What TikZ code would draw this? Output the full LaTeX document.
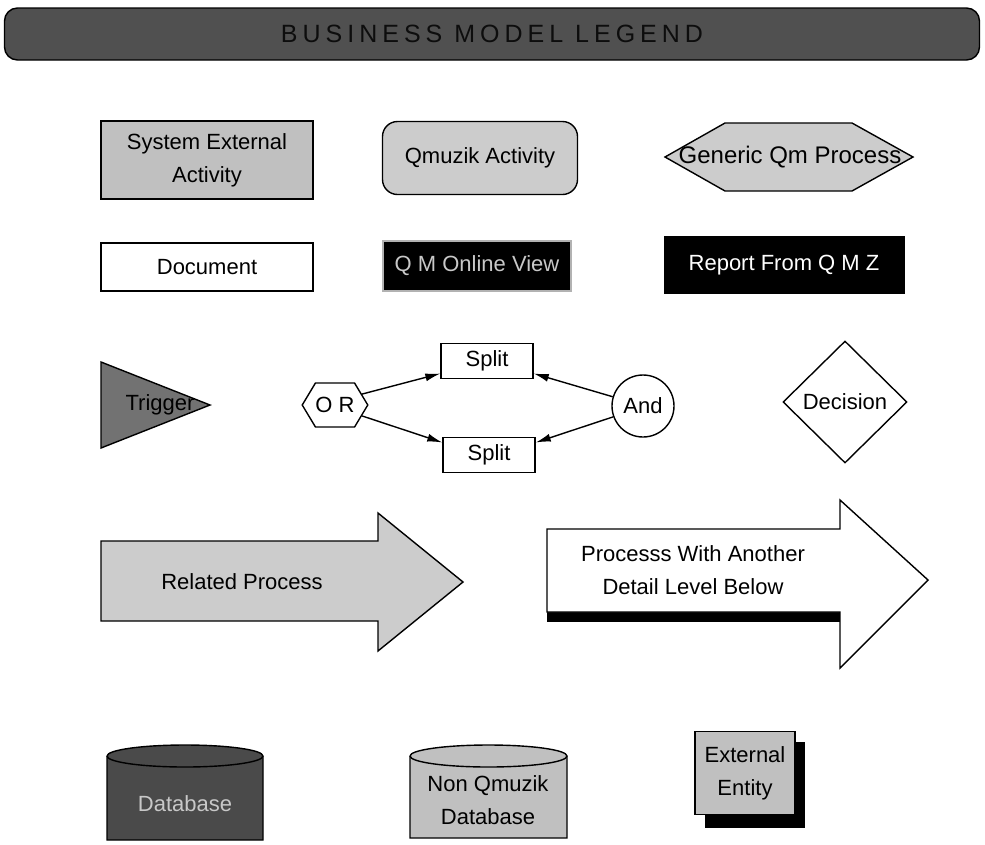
\documentclass[tikz,border=0pt]{standalone}
\usepackage{fontspec}
\setmainfont{Liberation Sans}
\newfontfamily\titlefont[LetterSpace=20]{Liberation Sans}
\usetikzlibrary{shapes.geometric,shapes.symbols,arrows.meta}

\definecolor{bargray}{HTML}{505050}
\definecolor{boxgray}{HTML}{C0C0C0}
\definecolor{palegray}{HTML}{CCCCCC}
\definecolor{darkgray}{HTML}{727272}
\definecolor{dbgray}{HTML}{4A4A4A}
\definecolor{viewtext}{HTML}{C8C8C8}

\begin{document}
\begin{tikzpicture}[x=1pt,y=-1pt,
    every node/.style={font=\fontsize{22}{33}\selectfont,align=center,inner sep=0pt},
    shapeline/.style={draw,line width=1.4pt},
    blackbox/.style={fill=black,text=viewtext,minimum height=50}]
\useasboundingbox (0,0) rectangle (985,844);

\node[shapeline,fill=bargray,rounded corners=13,minimum width=975,minimum height=52] (bar) at (492,34)
    {\titlefont\fontsize{25}{28}\selectfont\color{black!95}BUSINESS MODEL LEGEND};

\node[shapeline,fill=boxgray,minimum width=212,minimum height=78] (extact) at (207,160) {System External\\Activity};
\node[shapeline,fill=palegray,rounded corners=15,minimum width=195,minimum height=73] (qmact) at (480,158) {Qmuzik Activity};
\draw[shapeline,fill=palegray] (665,157) -- (725,123) -- (852,123) -- (913,157) -- (852,191) -- (725,191) -- cycle;
\node (generic) at (790,157) {\fontsize{24}{28}\selectfont Generic Qm Process};

\node[shapeline,fill=white,minimum width=212,minimum height=48] (doc) at (207,267) {Document};
\node[blackbox,draw=gray!60,line width=1.4pt,minimum width=188] (online) at (477,266) {Q M Online View};
\node[blackbox,text=white,minimum width=241,minimum height=58] (report) at (784,265) {Report From Q M Z};

\draw[shapeline,fill=darkgray] (101,362) -- (210,405) -- (101,448) -- cycle;
\node (trigger) at (160,405) {Trigger};

\node[shapeline,fill=white,signal,signal to=west and east,signal pointer angle=118,minimum width=56,minimum height=44] (or) at (335,405) {O R};
\node[shapeline,fill=white,minimum width=92,minimum height=35] (split1) at (487,361) {Split};
\node[shapeline,fill=white,minimum width=92,minimum height=35] (split2) at (489,455) {Split};
\node[shapeline,fill=white,circle,minimum size=62] (and) at (643,406) {And};
\draw[line width=1.4pt,-{Latex[length=15pt,width=8pt]}] (or.22) -- (split1.195);
\draw[line width=1.4pt,-{Latex[length=15pt,width=8pt]}] (or.-22) -- (split2.165);
\draw[line width=1.4pt,-{Latex[length=15pt,width=8pt]}] (and.163) -- (split1.-15);
\draw[line width=1.4pt,-{Latex[length=15pt,width=8pt]}] (and.200) -- (split2.15);

\node[shapeline,fill=white,diamond,aspect=1,minimum width=124,minimum height=122] (decision) at (845,402) {Decision};

\draw[shapeline,fill=palegray] (101,541) -- (378,541) -- (378,513) -- (463,582) -- (378,651) -- (378,621) -- (101,621) -- cycle;
\node (related) at (242,582) {Related Process};

\fill (547,612) rectangle (840,622);
\draw[shapeline,fill=white] (547,529) -- (840,529) -- (840,500) -- (928,580) -- (840,668) -- (840,612) -- (547,612) -- cycle;
\node (detail) at (693,570) {Processs With Another\\Detail Level Below};

\draw[shapeline,fill=dbgray] (107,756) -- (107,840) -- (263,840) -- (263,756) arc[start angle=0,end angle=-180,x radius=78,y radius=11];
\draw[line width=1.4pt] (107,756) arc[start angle=180,end angle=0,x radius=78,y radius=11];
\node[text=viewtext] (db) at (185,804) {Database};

\draw[shapeline,fill=boxgray] (410,756) -- (410,838) -- (567,838) -- (567,756) arc[start angle=0,end angle=-180,x radius=78.5,y radius=11];
\draw[line width=1.4pt] (410,756) arc[start angle=180,end angle=0,x radius=78.5,y radius=11];
\node (nondb) at (488,800) {Non Qmuzik\\Database};

\fill (705,742) rectangle (805,828);
\node[shapeline,fill=boxgray,minimum width=100,minimum height=83] (entity) at (745,773) {External\\Entity};
\end{tikzpicture}
\end{document}
